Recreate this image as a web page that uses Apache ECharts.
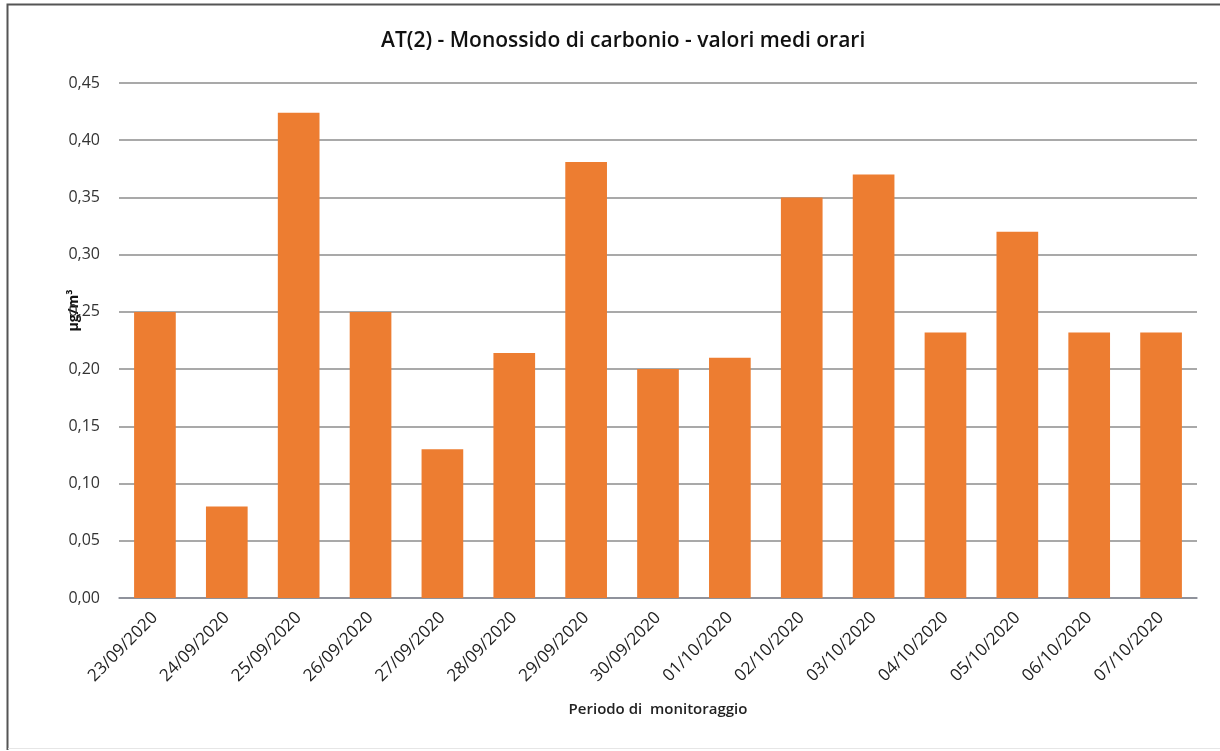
<!DOCTYPE html>
<html>
<head>
<meta charset="utf-8">
<script src="https://cdn.jsdelivr.net/npm/echarts@6/dist/echarts.min.js"></script>
<style>
  html, body { margin: 0; padding: 0; background: #fff; }
  #chart { width: 1220px; height: 751px; }
</style>
</head>
<body>
<div id="chart"></div>
<script>
// date di monitoraggio
const giorni = ['23/09/2020', '24/09/2020', '25/09/2020', '26/09/2020', '27/09/2020',
  '28/09/2020', '29/09/2020', '30/09/2020', '01/10/2020', '02/10/2020',
  '03/10/2020', '04/10/2020', '05/10/2020', '06/10/2020', '07/10/2020'];
// CO valori medi orari
const valori = [0.25, 0.08, 0.424, 0.25, 0.13, 0.214, 0.381, 0.20, 0.21, 0.35,
  0.37, 0.232, 0.32, 0.232, 0.232];

const myChart = echarts.init(document.getElementById('chart'));
const font = '"Open Sans", "Liberation Sans", sans-serif';

myChart.setOption({
  animation: false,
  textStyle: { fontFamily: font },
  title: {
    text: 'AT(2) - Monossido di carbonio - valori medi orari',
    left: 376,
    top: 26,
    textStyle: { fontSize: 21, fontWeight: 600, color: '#111', fontFamily: font }
  },
  graphic: [
    {
      type: 'polyline',
      shape: { points: [[7.5, 750], [7.5, 4.5], [1220, 4.5]] },
      style: { fill: 'none', stroke: '#555', lineWidth: 2 },
      silent: true
    },
    {
      type: 'line',
      shape: { x1: 8, y1: 748.5, x2: 1220, y2: 748.5 },
      style: { stroke: '#e6e6e6', lineWidth: 1 },
      silent: true
    }
  ],
  grid: { left: 119, right: 23, top: 83, bottom: 153, containLabel: false },
  xAxis: {
    type: 'category',
    data: giorni,
    name: 'Periodo di  monitoraggio',
    nameLocation: 'middle',
    nameGap: 104,
    nameMoveOverlap: false,
    nameTextStyle: { fontSize: 15, fontWeight: 600, color: '#222' },
    axisLine: { lineStyle: { color: '#868b96', width: 1.5 } },
    axisTick: { show: false },
    axisLabel: { rotate: 45, fontSize: 17, color: '#222', margin: 17, interval: 0 }
  },
  yAxis: {
    type: 'value',
    min: 0,
    max: 0.45,
    interval: 0.05,
    name: 'µg/m³',
    nameLocation: 'middle',
    nameRotate: 90,
    nameGap: 38,
    nameMoveOverlap: false,
    nameTextStyle: { fontSize: 14, fontWeight: 'bold', color: '#111', padding: [0, 0, 0, 60] },
    axisLine: { show: false },
    axisTick: { show: false },
    axisLabel: {
      fontSize: 16,
      color: '#333',
      margin: 19,
      formatter: v => v.toFixed(2).replace('.', ',')
    },
    splitLine: { lineStyle: { color: '#8c8c8c', width: 1.5 } }
  },
  series: [{
    type: 'bar',
    data: valori,
    barWidth: '58%',
    itemStyle: { color: '#ED7D31' }
  }]
});
</script>
</body>
</html>
